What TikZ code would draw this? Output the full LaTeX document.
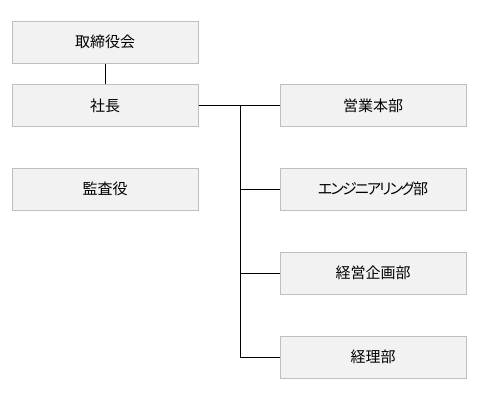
\documentclass[tikz,border=0pt]{standalone}
\usepackage{fontspec}
\newfontfamily\cjk{Noto Sans CJK JP}
\newfontfamily\cjkp[RawFeature=+palt,LetterSpace=-12]{Noto Sans CJK JP}
\definecolor{boxfill}{HTML}{F2F2F2}
\definecolor{boxline}{HTML}{BFBFBF}
\begin{document}
\begin{tikzpicture}[x=1pt,y=-1pt,
  orgbox/.style={draw=boxline,fill=boxfill,line width=1pt,minimum width=186pt,minimum height=42pt,inner sep=0pt,font=\cjk\fontsize{15}{17}\selectfont},
  conn/.style={draw=black,line width=1pt}]
\useasboundingbox (0,0) rectangle (481,400);
\node[orgbox] (board) at (105,42) {取締役会};
\node[orgbox] (pres) at (105,105.5) {社長};
\node[orgbox] (audit) at (105,189) {監査役};
\node[orgbox] (sales) at (373,105.5) {営業本部};
\node[orgbox] (eng) at (373,189) {\cjkp エンジニアリング部};
\node[orgbox] (plan) at (373,273) {経営企画部};
\node[orgbox] (acct) at (373,357) {経理部};
\coordinate (j1) at (240,105.5);
\coordinate (j2) at (240,189);
\coordinate (j3) at (240,273);
\coordinate (j4) at (240,357);
\draw[conn] (board) -- (pres);
\draw[conn] (pres) -- (sales);
\draw[conn] (j1) -- (j4);
\draw[conn] (j2) -- (eng);
\draw[conn] (j3) -- (plan);
\draw[conn] (j4) -- (acct);
\end{tikzpicture}
\end{document}
